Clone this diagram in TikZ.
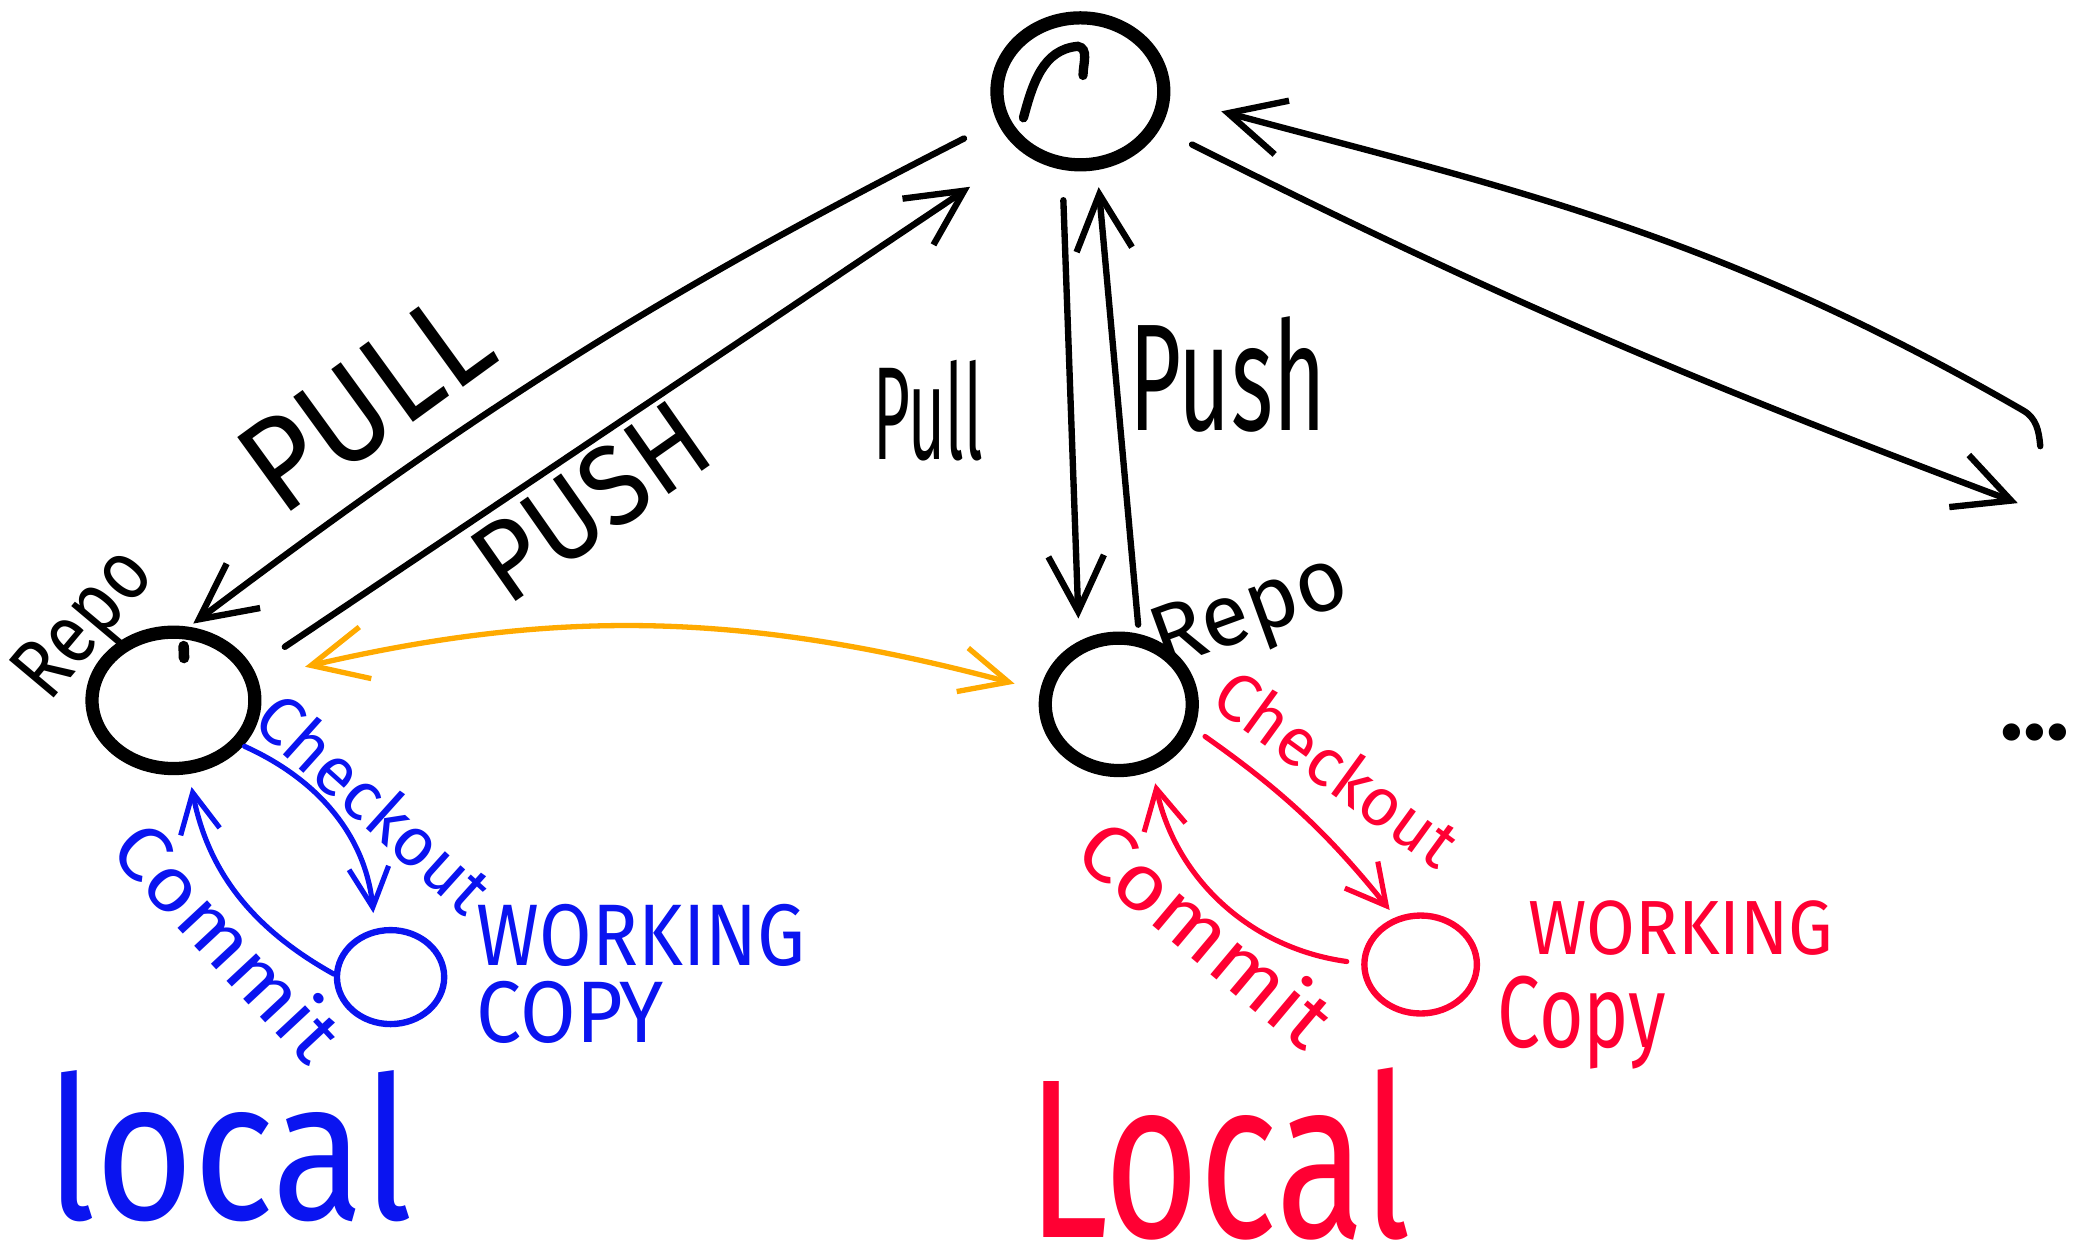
\documentclass[tikz,border=0pt]{standalone}
\usepackage{fontspec}
\usepackage{graphicx}
\setmainfont{Fira Sans}
\usetikzlibrary{arrows.meta,shapes.geometric}
\definecolor{penblue}{RGB}{10,20,240}
\definecolor{penred}{RGB}{255,0,51}
\definecolor{penorange}{RGB}{255,170,0}
\newcommand{\fs}[1]{\fontsize{#1}{#1}\selectfont}
\newcommand{\sx}[2]{\scalebox{#1}[1]{#2}}
\begin{document}
\begin{tikzpicture}[x=1pt,y=1pt,
  ring/.style={ellipse, draw, inner sep=0pt, line width=10pt},
  wcring/.style={ellipse, draw, inner sep=0pt, line width=4.8pt},
  blk/.style={line width=4.8pt, line cap=round, line join=round, -{Straight Barb[length=42pt,width=42pt]}},
  bluearr/.style={penblue, line width=3.9pt, line cap=round, line join=round, -{Straight Barb[length=30pt,width=30pt]}},
  redarr/.style={penred, line width=3.9pt, line cap=round, line join=round, -{Straight Barb[length=30pt,width=32pt]}},
  orarr/.style={penorange, line width=4pt, line cap=round, line join=round, {Straight Barb[length=42pt,width=40pt]}-{Straight Barb[length=36pt,width=34pt]}},
  lbl/.style={inner sep=0pt}
]
\useasboundingbox (0,0) rectangle (1568,947);
\fill[white] (0,0) rectangle (1568,947);

% circles
\node[ring, minimum width=126pt, minimum height=111pt] (server) at (816,878) {};
\node[ring, minimum width=123pt, minimum height=103pt] (repoA) at (131,418) {};
\node[ring, minimum width=111pt, minimum height=100pt] (repoB) at (845,415) {};
\node[wcring, penblue, minimum width=81pt, minimum height=71pt] (wcA) at (295,209) {};
\node[wcring, penred, minimum width=85pt, minimum height=74pt] (wcB) at (1073,218.5) {};
\draw[line width=7pt, line cap=round] (773,858) to[out=75,in=185] (814,912) to[out=-10,in=90] (818,890);
\draw[line width=8pt, line cap=round] (138.7,459) -- (139,450);

\coordinate (farA) at (1524,567);
\coordinate (farB) at (1541,610);
\coordinate (farBturn) at (1528,637);

% black connectors
\draw[blk, shorten <=28pt, shorten >=4pt] (server.200) to[bend right=5] (repoA.78);
\draw[blk, shorten <=29pt, shorten >=47pt] (repoA.22) -- (server.226);
\draw[blk, shorten <=23pt, shorten >=17pt] (server.257) -- (repoB.122);
\draw[blk, shorten <=7pt, shorten >=13pt] (repoB.74) -- (server.282);
\draw[blk, shorten <=27pt] (server.335) to[bend right=3] (farA);
\draw[blk, shorten >=40pt] (farB) to[out=95,in=-30] (farBturn) to[out=150,in=-15] (server.356);

% orange
\draw[orarr, shorten <=37pt, shorten >=20pt] (repoA.15) to[bend left=14] (repoB.170);

% blue
\draw[bluearr, shorten <=1pt, shorten >=12pt] (repoA.327) to[bend left=30] (wcA.108);
\draw[bluearr, shorten >=10pt] (wcA.177) to[bend left=25] (repoA.282);
% red
\draw[redarr, shorten <=10pt, shorten >=7pt] (repoB.342) to[bend left=8] (wcB.118);
\draw[redarr, shorten <=11pt, shorten >=10pt] (wcB.179) to[bend left=35] (repoB.297);

% labels
\node[lbl, rotate=36, font=\fs{100}] (lblPullA) at (276,643) {\sx{0.92}{PULL}};
\node[lbl, rotate=35, font=\fs{86}] (lblPushA) at (446,568) {\sx{0.92}{PUSH}};
\node[lbl, font=\fs{100}] (lblPullB) at (701,637) {\sx{0.48}{Pull}};
\node[lbl, font=\fs{115}] (lblPushB) at (927,664) {\sx{0.59}{Push}};
\node[lbl, rotate=50, font=\fs{64}] (lblRepoA) at (66,474) {\sx{0.85}{Repo}};
\node[lbl, rotate=20, font=\fs{66}] (lblRepoB) at (945,482) {Repo};

\node[lbl, rotate=-42, text=penblue, font=\fs{52}] (lblCheckA) at (283,341) {Checkout};
\node[lbl, rotate=-47, text=penblue, font=\fs{58}] (lblCommitA) at (173,237) {\sx{1.1}{Commit}};
\node[lbl, anchor=north west, align=left, text=penblue, font=\fontsize{66}{58}\selectfont] (lblWcA) at (360,264) {\sx{0.87}{WORKING}\\\sx{0.92}{COPY}};

\node[lbl, rotate=-36, text=penred, font=\fs{51}] (lblCheckB) at (1010,367) {Checkout};
\node[lbl, rotate=-40, text=penred, font=\fs{60}] (lblCommitB) at (912,243) {\sx{1.1}{Commit}};
\node[lbl, anchor=north west, align=left, text=penred, font=\fontsize{58}{70}\selectfont] (lblWcB) at (1131,267) {\hspace*{23pt}\sx{0.92}{WORKING}\\{\fontsize{77}{70}\selectfont\sx{0.75}{Copy}}};

\node[lbl, anchor=base west, text=penblue, font=\fs{150}] (lblLocalA) at (35,26) {\sx{0.85}{local}};
\node[lbl, anchor=base west, text=penred, font=\fs{171}] (lblLocalB) at (776,12) {\sx{0.72}{Local}};
\node[lbl, font=\bfseries\fs{72}] (lblMore) at (1537,394) {...};
\end{tikzpicture}
\end{document}
